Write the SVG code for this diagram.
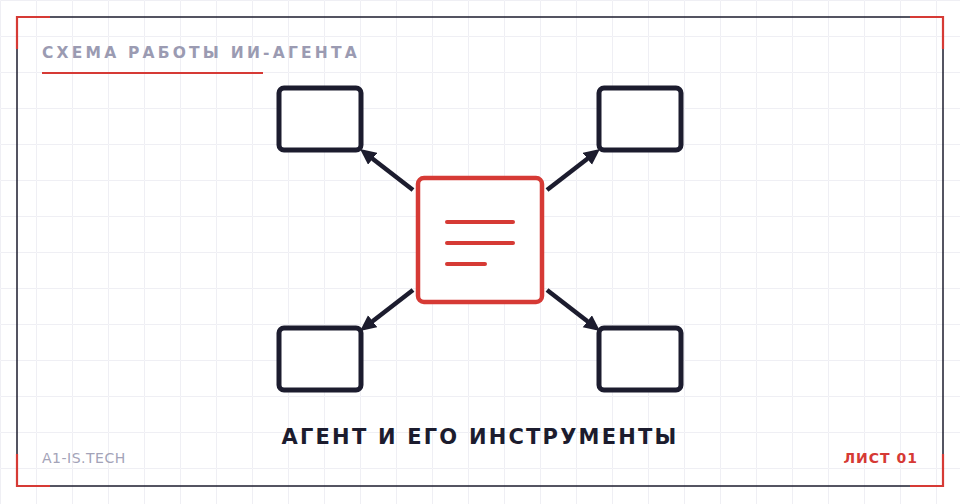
<svg xmlns="http://www.w3.org/2000/svg" width="960" height="504" viewBox="0 0 960 504">
<style>
.grid{stroke:#efeff4;stroke-width:1;fill:none}
.frame{fill:none;stroke:#1c1c2e;stroke-width:1.5}
.corner{fill:none;stroke:#d63a35;stroke-width:2.2}
.tool{fill:#ffffff;stroke:#1c1c2e;stroke-width:5}
.agent{fill:#ffffff;stroke:#d63a35;stroke-width:4.5}
.doc{stroke:#d63a35;stroke-width:4;stroke-linecap:round}
.conn{stroke:#1c1c2e;stroke-width:4.5;fill:none;marker-end:url(#arr)}
.title{font-family:"DejaVu Sans",sans-serif;font-weight:bold;font-size:15.5px;letter-spacing:3.2px;fill:#9b9bb2}
.caption{font-family:"DejaVu Sans",sans-serif;font-weight:bold;font-size:21px;letter-spacing:2.2px;fill:#1c1c2e}
.site{font-family:"DejaVu Sans",sans-serif;font-size:14px;letter-spacing:0.5px;fill:#a3a3b8}
.sheet{font-family:"DejaVu Sans",sans-serif;font-weight:bold;font-size:14px;letter-spacing:1px;fill:#d63a35}
</style>
<defs>
<pattern id="g" width="36" height="36" patternUnits="userSpaceOnUse">
<path class="grid" d="M36 0.5 H0.5 V36"/>
</pattern>
<marker id="arr" markerUnits="userSpaceOnUse" markerWidth="18" markerHeight="16" refX="5" refY="7.5" orient="auto">
<path d="M0,0 L16,7.5 L0,15 Z" fill="#1c1c2e"/>
</marker>
</defs>
<rect width="960" height="504" fill="#ffffff"/>
<rect width="960" height="504" fill="url(#g)"/>
<rect class="frame" x="17" y="17" width="926" height="469"/>
<path class="corner" d="M17 49 V17 H50"/>
<path class="corner" d="M910 17 H943 V49"/>
<path class="corner" d="M17 454 V486 H50"/>
<path class="corner" d="M910 486 H943 V454"/>
<text class="title" x="42" y="58">СХЕМА РАБОТЫ ИИ-АГЕНТА</text>
<line x1="42" y1="73" x2="263" y2="73" stroke="#d63a35" stroke-width="2.2"/>
<g id="connectors">
<line class="conn" x1="413" y1="190" x2="368.7" y2="155.7"/>
<line class="conn" x1="547" y1="190" x2="591.3" y2="155.7"/>
<line class="conn" x1="413" y1="290" x2="368.7" y2="324.3"/>
<line class="conn" x1="547" y1="290" x2="591.3" y2="324.3"/>
</g>
<g id="tool-top-left"><rect class="tool" x="279" y="88" width="82" height="62" rx="5"/></g>
<g id="tool-top-right"><rect class="tool" x="599" y="88" width="82" height="62" rx="5"/></g>
<g id="tool-bottom-left"><rect class="tool" x="279" y="328" width="82" height="62" rx="5"/></g>
<g id="tool-bottom-right"><rect class="tool" x="599" y="328" width="82" height="62" rx="5"/></g>
<g id="agent">
<rect class="agent" x="418" y="178" width="124" height="124" rx="6"/>
<line class="doc" x1="447" y1="222" x2="513" y2="222"/>
<line class="doc" x1="447" y1="243" x2="513" y2="243"/>
<line class="doc" x1="447" y1="264" x2="485" y2="264"/>
</g>
<text class="caption" x="480" y="444" text-anchor="middle">АГЕНТ И ЕГО ИНСТРУМЕНТЫ</text>
<text class="site" x="42" y="463">A1-IS.TECH</text>
<text class="sheet" x="918" y="463" text-anchor="end">ЛИСТ 01</text>
</svg>
